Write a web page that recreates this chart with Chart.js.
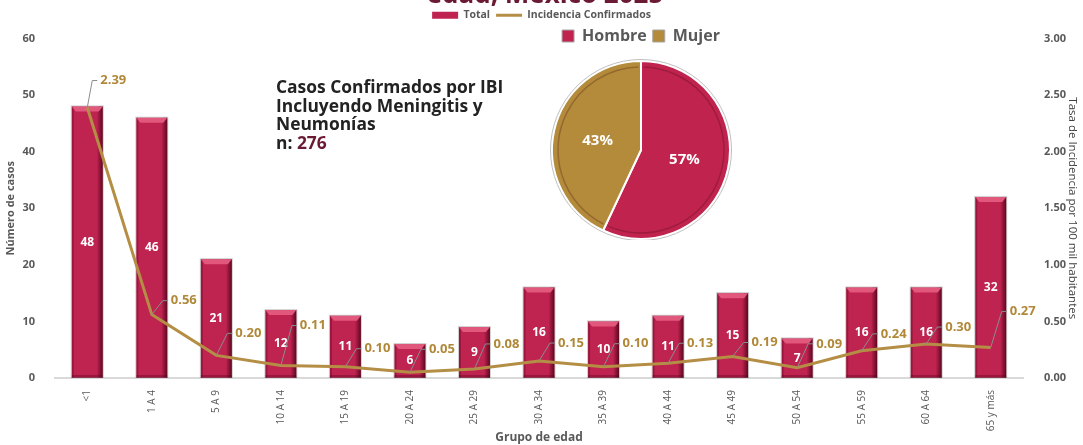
<!DOCTYPE html>
<html>
<head>
<meta charset="utf-8">
<script src="https://cdn.jsdelivr.net/npm/chart.js@4.4.1/dist/chart.umd.min.js"></script>
<style>
  html, body { margin: 0; padding: 0; background: #fff; }
  #wrap { position: relative; width: 1083px; height: 445px; overflow: hidden; }
  #mainChart { position: absolute; left: 0; top: 0; }
  #pieChart { position: absolute; left: 540px; top: 20px; }
  #note { position: absolute; left: 276px; top: 77px; font: bold 17.4px 'Open Sans', sans-serif; color: #222; line-height: 18.5px; }
  #note span { color: #6B1A33; }
</style>
</head>
<body>
<div id="wrap">
  <canvas id="mainChart" width="1083" height="445"></canvas>
  <canvas id="pieChart" width="202" height="220"></canvas>
  <div id="note">Casos Confirmados por IBI<br>Incluyendo Meningitis y<br>Neumonías<br>n: <span>276</span></div>
</div>
<script>
const ageGroups = ['<1', '1 A 4', '5 A 9', '10 A 14', '15 A 19', '20 A 24', '25 A 29', '30 A 34',
  '35 A 39', '40 A 44', '45 A 49', '50 A 54', '55 A 59', '60 A 64', '65 y más'];
const totalCases = [48, 46, 21, 12, 11, 6, 9, 16, 10, 11, 15, 7, 16, 16, 32];
const incidence = [2.39, 0.56, 0.20, 0.11, 0.10, 0.05, 0.08, 0.15, 0.10, 0.13, 0.19, 0.09, 0.24, 0.30, 0.27];
const sexLabels = ['Hombre', 'Mujer'];
const sexShare = [57, 43];

// how far each incidence label sits above its point (px)
const rateLabelLift = [27, 14, 22, 40, 18, 23, 25, 18, 23, 20, 14, 24, 17, 17, 36];

const CRIMSON = '#BF2350';
const GOLD = '#B58E45';
const GOLD_TEXT = '#B08838';
const GREY = '#595959';
const FONT = "'Open Sans', sans-serif";

// leaves some extra room under a legend
const legendGap = {
  id: 'legendGap',
  beforeLayout(chart, args, opts) {
    const lg = chart.legend;
    if (lg && !lg._gapPatched) {
      const fit = lg.fit.bind(lg);
      lg.fit = function () { fit(); this.height += opts.extra || 0; };
      lg._gapPatched = true;
    }
  }
};

const titlePlugin = {
  id: 'cutTitle',
  beforeDraw(chart) {
    const c = chart.ctx;
    c.save();
    c.font = 'bold 26px ' + FONT;
    c.fillStyle = '#6B1A33';
    c.textAlign = 'center';
    c.textBaseline = 'alphabetic';
    c.fillText('edad, México 2025', 545, 3);
    c.restore();
  }
};

const barBevel = {
  id: 'barBevel',
  afterDatasetDraw(chart, args) {
    if (args.meta.type !== 'bar') return;
    const c = chart.ctx;
    c.save();
    args.meta.data.forEach((el) => {
      const { x, y, base, width } = el.getProps(['x', 'y', 'base', 'width'], true);
      const l = x - width / 2, r = x + width / 2;
      const g = c.createLinearGradient(r - 6, 0, r, 0);
      g.addColorStop(0, 'rgba(70,0,20,0)');
      g.addColorStop(1, 'rgba(70,0,20,0.8)');
      c.fillStyle = g;
      c.fillRect(r - 6, y, 6, base - y);
      c.fillStyle = 'rgba(90,0,30,0.35)';
      c.fillRect(l, y, 2, base - y);
      c.fillRect(l, base - 3, width, 3);
      c.beginPath();
      c.moveTo(l, y);
      c.lineTo(r, y);
      c.lineTo(r - 4, y + 5);
      c.lineTo(l + 4, y + 5);
      c.closePath();
      c.fillStyle = '#E2577C';
      c.fill();
      c.strokeStyle = 'rgba(120,120,120,0.35)';
      c.lineWidth = 1;
      c.strokeRect(l - 0.5, y - 0.5, width + 1, base - y);
    });
    c.restore();
  }
};

const valueLabels = {
  id: 'valueLabels',
  afterDatasetsDraw(chart) {
    const c = chart.ctx;
    c.save();
    const bars = chart.getDatasetMeta(0);
    c.font = 'bold 12px ' + FONT;
    c.fillStyle = '#fff';
    c.textAlign = 'center';
    c.textBaseline = 'middle';
    bars.data.forEach((el, i) => {
      const { x, y, base } = el.getProps(['x', 'y', 'base'], true);
      c.fillText(String(totalCases[i]), x, (y + base) / 2);
    });
    const line = chart.getDatasetMeta(1);
    c.font = 'bold 13px ' + FONT;
    c.textAlign = 'left';
    line.data.forEach((pt, i) => {
      const lx = pt.x + (i === 0 ? 13 : 19);
      const ly = pt.y - rateLabelLift[i];
      c.beginPath();
      c.moveTo(pt.x, pt.y);
      c.lineTo(lx - 8, ly);
      c.lineTo(lx - 3, ly);
      c.strokeStyle = '#8C8C8C';
      c.lineWidth = 1;
      c.stroke();
      c.fillStyle = GOLD_TEXT;
      c.fillText(incidence[i].toFixed(2), lx, ly);
    });
    c.restore();
  }
};

new Chart(document.getElementById('mainChart'), {
  type: 'bar',
  data: {
    labels: ageGroups,
    datasets: [
      {
        label: 'Total',
        data: totalCases,
        backgroundColor: CRIMSON,
        borderColor: '#6E1030',
        borderWidth: 0,
        pointStyle: 'rect',
        categoryPercentage: 0.8,
        barPercentage: 0.6,
        yAxisID: 'y',
        order: 1
      },
      {
        type: 'line',
        label: 'Incidencia Confirmados',
        data: incidence,
        borderColor: GOLD,
        backgroundColor: GOLD,
        borderWidth: 3,
        pointRadius: 0,
        pointStyle: 'line',
        tension: 0,
        yAxisID: 'y1',
        order: 0
      }
    ]
  },
  options: {
    responsive: false,
    animation: false,
    layout: { padding: { top: 4 } },
    plugins: {
      legendGap: { extra: 8 },
      legend: {
        position: 'top',
        labels: {
          color: GREY,
          font: { family: FONT, size: 10.5, weight: 'bold' },
          usePointStyle: true,
          pointStyleWidth: 26,
          boxHeight: 7,
          padding: 6,
          sort: (a, b) => a.datasetIndex - b.datasetIndex
        }
      },
      tooltip: { enabled: false }
    },
    scales: {
      x: {
        grid: { display: false },
        border: { display: true, color: '#D9D9D9', width: 2 },
        ticks: { color: GREY, font: { family: FONT, size: 10 }, minRotation: 90, maxRotation: 90, padding: 4 },
        title: { display: true, text: 'Grupo de edad', color: GREY, font: { family: FONT, size: 12, weight: 'bold' }, padding: { top: 0, bottom: 0 } },
        afterFit: (s) => { s.height = 67; }
      },
      y: {
        position: 'left',
        min: 0,
        max: 60,
        grid: { display: false },
        border: { display: false },
        ticks: { stepSize: 10, color: GREY, font: { family: FONT, size: 11, weight: 'bold' }, padding: 12 },
        title: { display: true, text: 'Número de casos', color: GREY, font: { family: FONT, size: 11, weight: 'bold' }, padding: { top: 4, bottom: 4 } },
        afterFit: (s) => { s.width = 55; }
      },
      y1: {
        position: 'right',
        min: 0,
        max: 3,
        grid: { display: false },
        border: { display: false },
        ticks: { stepSize: 0.5, color: GREY, font: { family: FONT, size: 11, weight: 'bold' }, padding: 13,
          callback: (v) => Number(v).toFixed(2) },
        title: { display: true, text: 'Tasa de Incidencia por 100 mil habitantes', color: '#404040', font: { family: FONT, size: 11.5 }, padding: { top: 4, bottom: 5 } },
        afterFit: (s) => { s.width = 60; }
      }
    }
  },
  plugins: [legendGap, titlePlugin, barBevel, valueLabels]
});

const pieText = {
  id: 'pieText',
  afterDatasetsDraw(chart) {
    const c = chart.ctx;
    const meta = chart.getDatasetMeta(0);
    c.save();
    const a0 = meta.data[0];
    // soft inner bevel on each slice
    meta.data.forEach((arc) => {
      c.beginPath();
      c.arc(arc.x, arc.y, arc.outerRadius - 6, arc.startAngle + 0.03, arc.endAngle - 0.03);
      c.strokeStyle = 'rgba(60,0,10,0.25)';
      c.lineWidth = 1.5;
      c.stroke();
    });
    c.beginPath();
    c.arc(a0.x, a0.y, a0.outerRadius + 1.5, 0, Math.PI * 2);
    c.strokeStyle = '#BFBFBF';
    c.lineWidth = 1;
    c.stroke();
    c.font = 'bold 15px ' + FONT;
    c.fillStyle = '#fff';
    c.textAlign = 'center';
    c.textBaseline = 'middle';
    meta.data.forEach((arc, i) => {
      const p = arc.getCenterPoint();
      c.fillText(sexShare[i] + '%', p.x, p.y);
    });
    c.restore();
  }
};

new Chart(document.getElementById('pieChart'), {
  type: 'pie',
  data: {
    labels: sexLabels,
    datasets: [{
      data: sexShare,
      backgroundColor: ['#C0244E', '#B38B3A'],
      borderColor: '#fff',
      borderWidth: 2
    }]
  },
  options: {
    responsive: false,
    animation: false,
    layout: { padding: { top: 2, bottom: 0 } },
    plugins: {
      legendGap: { extra: 6 },
      legend: {
        position: 'top',
        labels: {
          color: GREY,
          font: { family: FONT, size: 16, weight: 'bold' },
          boxWidth: 12,
          boxHeight: 12,
          padding: 6,
          generateLabels: (chart) => Chart.overrides.pie.plugins.legend.labels.generateLabels(chart)
            .map((it) => Object.assign(it, { strokeStyle: '#A6A6A6', lineWidth: 1 }))
        }
      },
      tooltip: { enabled: false }
    }
  },
  plugins: [legendGap, pieText]
});
</script>
</body>
</html>
